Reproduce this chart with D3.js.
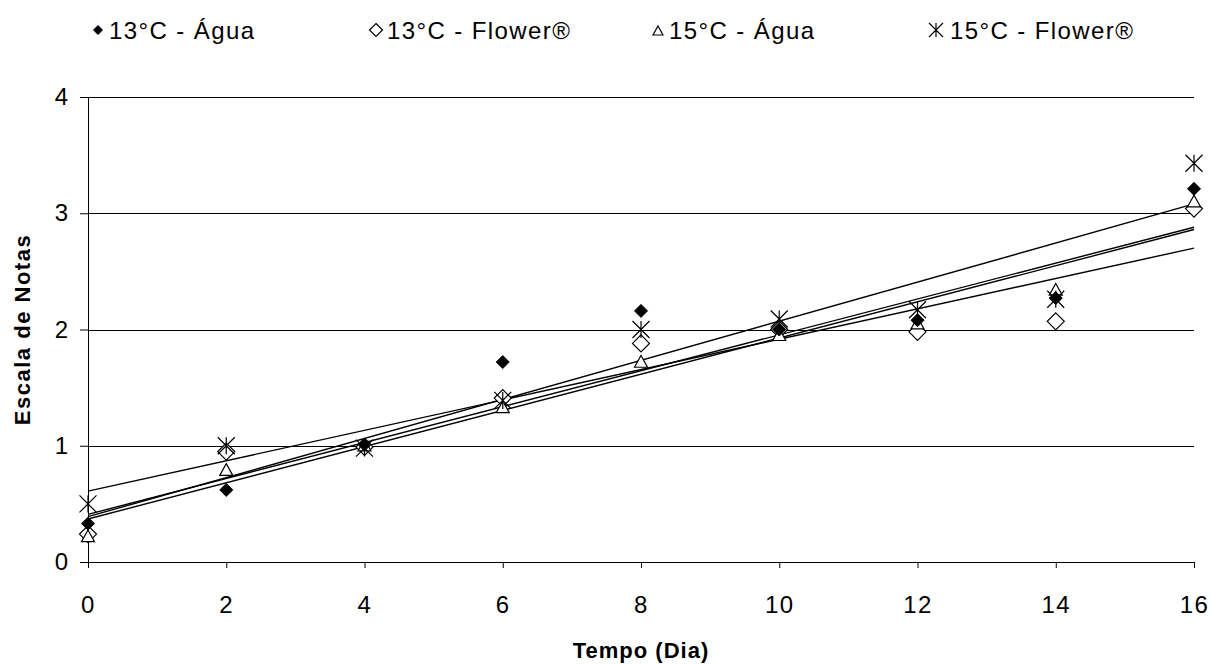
<html>
<script src="https://d3js.org/d3.v7.min.js"></script>
<style>
  body { margin: 0; background: #fff; }
  text { font-family: "Liberation Sans", Arial, sans-serif; }
</style>
<body>
<div id="chart_area"></div>
</body>
<script>

// days of measurement
var days = [0, 2, 4, 6, 8, 10, 12, 14, 16];

// mean scores per treatment
var agua13    = [0.33, 0.62, 1.01, 1.72, 2.16, 2.00, 2.08, 2.27, 3.21];
var flower13  = [0.24, 0.95, 0.99, 1.41, 1.88, 2.00, 1.98, 2.07, 3.04];
var agua15    = [0.22, 0.79, 1.00, 1.33, 1.72, 1.95, 2.05, 2.34, 3.10];
var flower15  = [0.50, 1.00, 0.98, 1.39, 2.00, 2.09, 2.17, 2.26, 3.43];

// trend lines, value at day 0 and day 16
var trendDays  = [0, 16];
var trendAgua13   = [0.41, 2.88];
var trendFlower13 = [0.61, 2.70];
var trendAgua15   = [0.37, 2.86];
var trendFlower15 = [0.39, 3.08];

var legendLabels = ["13°C - Água", "13°C - Flower®", "15°C - Água", "15°C - Flower®"];
var yTicks = [0, 1, 2, 3, 4];
var xTicks = [0, 2, 4, 6, 8, 10, 12, 14, 16];

var W = 1212, H = 664;
var margin = {top: 97, right: 18, bottom: 102, left: 88};
var width = W - margin.left - margin.right,
    height = H - margin.top - margin.bottom;

var svg = d3.select("#chart_area").append("svg")
    .attr("width", W).attr("height", H);

var g = svg.append("g")
    .attr("transform", "translate(" + margin.left + "," + margin.top + ")");

var x = d3.scaleLinear().domain([0, 16]).range([0, width]);
var y = d3.scaleLinear().domain([0, 4]).range([height, 0]);

// gridlines
g.append("g").selectAll("line").data(yTicks.filter(d => d > 0)).enter().append("line")
  .attr("x1", 0).attr("x2", width)
  .attr("y1", d => Math.round(y(d)) + 0.5).attr("y2", d => Math.round(y(d)) + 0.5)
  .attr("stroke", "#000").attr("stroke-width", 1);

// y axis
var yAxis = g.append("g").call(d3.axisLeft(y).tickValues(yTicks).tickSize(8).tickPadding(12).tickFormat(d3.format("d")));
yAxis.select(".domain").attr("stroke", "#000");
yAxis.selectAll("text").style("font-size", "24px").attr("fill", "#000");

// x axis
var xAxis = g.append("g").attr("transform", "translate(0," + height + ")")
  .call(d3.axisBottom(x).tickValues(xTicks).tickSize(6).tickPadding(28).tickFormat(d3.format("d")));
xAxis.select(".domain").attr("stroke", "#000");
xAxis.selectAll("text").style("font-size", "24px").style("letter-spacing", "1.5px").attr("fill", "#000");

// trend lines
var line = d3.line().x(d => x(d[0])).y(d => y(d[1]));
[trendAgua13, trendFlower13, trendAgua15, trendFlower15].forEach(function(t) {
  g.append("path")
    .datum(trendDays.map((d, i) => [d, t[i]]))
    .attr("d", line)
    .attr("fill", "none").attr("stroke", "#000").attr("stroke-width", 1.4);
});

// marker shapes
function markerPath(type, s) {
  if (type == 0 || type == 1) {
    return "M0," + (-s) + "L" + s + ",0L0," + s + "L" + (-s) + ",0Z";
  } else if (type == 2) {
    return "M0," + (-s) + "L" + s + "," + (s * 0.8) + "L" + (-s) + "," + (s * 0.8) + "Z";
  } else {
    return "M" + (-s) + "," + (-s) + "L" + s + "," + s +
           "M" + s + "," + (-s) + "L" + (-s) + "," + s +
           "M0," + (-s) + "L0," + s;
  }
}
function styleMarker(sel, type) {
  if (type == 0) sel.attr("fill", "#000").attr("stroke", "#000").attr("stroke-width", 1);
  else sel.attr("fill", type == 3 ? "none" : "#fff").attr("stroke", "#000").attr("stroke-width", 1.2);
}

var series = [agua13, flower13, agua15, flower15];
var plotSizes = [6.5, 8.5, 6.5, 8.5];
// draw open markers first, filled diamond on top of them last
[1, 2, 3, 0].forEach(function(k) {
  var pts = g.append("g").selectAll("path").data(days.map((d, i) => [d, series[k][i]]))
    .enter().append("path")
    .attr("transform", d => "translate(" + x(d[0]) + "," + y(d[1]) + ")")
    .attr("d", markerPath(k, plotSizes[k]));
  styleMarker(pts, k);
});

// axis titles
svg.append("text")
  .attr("x", margin.left + width / 2).attr("y", 658)
  .attr("text-anchor", "middle")
  .style("font-size", "22px").style("font-weight", "bold").style("letter-spacing", "1px")
  .text("Tempo (Dia)");

svg.append("text")
  .attr("transform", "translate(30," + (margin.top + height / 2) + ") rotate(-90)")
  .attr("text-anchor", "middle")
  .style("font-size", "22px").style("font-weight", "bold").style("letter-spacing", "1.5px")
  .text("Escala de Notas");

// legend
var legendX = [98, 376, 658, 936];
var legendSizes = [4.5, 6.5, 5, 7];
var legend = svg.append("g").selectAll("g").data(legendLabels).enter().append("g")
  .attr("transform", (d, i) => "translate(" + legendX[i] + ",30)");
legend.each(function(d, i) {
  var m = d3.select(this).append("path").attr("d", markerPath(i, legendSizes[i]))
    .attr("transform", i == 2 ? "translate(0,1)" : null);
  styleMarker(m, i);
  d3.select(this).append("text")
    .attr("x", i == 3 ? 14 : 11).attr("y", 8.5)
    .style("font-size", "24px").style("letter-spacing", "1.4px")
    .text(d);
});

</script>
</html>
